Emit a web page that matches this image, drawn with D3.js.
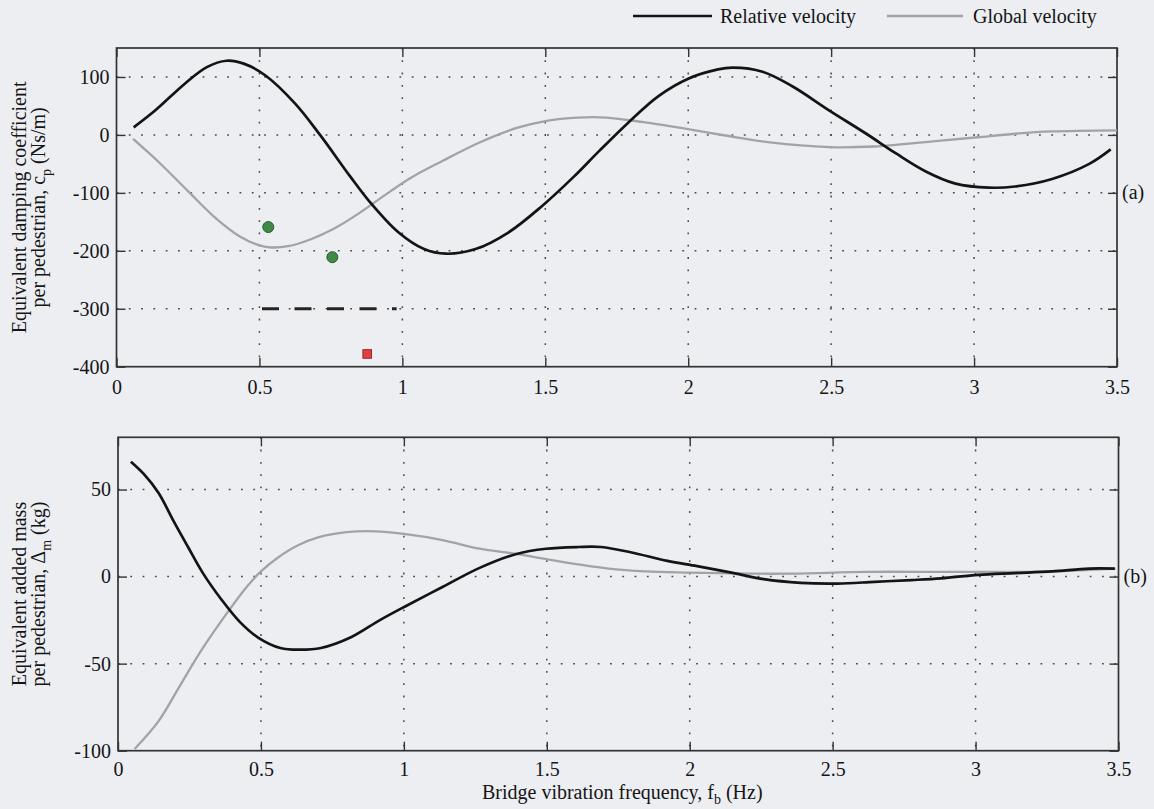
<!DOCTYPE html>
<html>
<head>
<meta charset="utf-8">
<script src="https://cdn.jsdelivr.net/npm/d3@7"></script>
<style>
  html, body { margin: 0; padding: 0; background: #eceef2; }
  svg { display: block; }
  text { font-family: "Liberation Serif", "Times New Roman", "DejaVu Serif", serif; fill: #151515; }
</style>
</head>
<body>
<svg id="chart" width="1154" height="809"></svg>
<script>
// Equivalent damping / added mass per pedestrian vs bridge frequency

// -----------------------------------------------------------------------------
// DATA
// -----------------------------------------------------------------------------

const xTicks = [0, 0.5, 1, 1.5, 2, 2.5, 3, 3.5];
const yTicksA = [-400, -300, -200, -100, 0, 100];
const yTicksB = [-100, -50, 0, 50];

// (a) damping coefficient c_p (Ns/m)
const cpRelative = [
  [0.06, 13], [0.135, 42], [0.238, 88], [0.316, 117], [0.385, 128], [0.445, 123],
  [0.52, 103], [0.625, 54], [0.712, 0], [0.818, -72], [0.885, -115], [0.986, -168],
  [1.076, -197], [1.153, -205], [1.256, -197], [1.372, -168], [1.488, -123],
  [1.6, -72], [1.688, -28], [1.792, 22], [1.896, 67], [2.0, 97], [2.104, 113],
  [2.156, 116], [2.26, 109], [2.364, 84], [2.494, 42], [2.623, 2], [2.727, -32],
  [2.831, -63], [2.935, -84], [3.052, -91], [3.143, -89], [3.273, -76],
  [3.403, -50], [3.478, -25]
];
const cpGlobal = [
  [0.058, -7], [0.15, -48], [0.25, -97], [0.35, -145], [0.43, -175], [0.49, -189],
  [0.535, -194], [0.6, -192], [0.68, -180], [0.76, -162], [0.84, -138], [0.93, -107],
  [1.03, -74], [1.14, -45], [1.27, -13], [1.4, 12], [1.5, 24], [1.615, 30],
  [1.714, 30], [1.844, 22], [2.0, 10], [2.13, -1], [2.286, -13], [2.494, -21],
  [2.649, -20], [2.753, -16], [2.883, -10], [3.013, -4], [3.143, 2], [3.273, 6], [3.5, 8]
];
const cpCircles = [[0.531, -159], [0.755, -211]];
const cpSquares = [[0.877, -378]];
const cpDashed = [[0.509, -300], [0.98, -300]];

// (b) added mass Δ_m (kg)
const dmRelative = [
  [0.045, 66], [0.09, 59], [0.142, 48], [0.194, 32], [0.245, 17], [0.297, 2],
  [0.361, -13], [0.426, -26], [0.49, -35], [0.568, -41], [0.632, -42], [0.71, -41],
  [0.813, -35], [0.916, -25], [1.006, -17], [1.135, -6], [1.265, 5], [1.394, 13],
  [1.497, 16], [1.61, 17], [1.69, 17], [1.793, 14], [1.922, 9], [2.026, 6],
  [2.155, 2], [2.259, -1.5], [2.388, -3.6], [2.517, -4], [2.647, -3], [2.776, -2],
  [2.88, -1], [3.009, 1], [3.138, 2], [3.268, 3], [3.397, 4.6], [3.487, 4.6]
];
const dmGlobal = [
  [0.058, -99], [0.142, -83], [0.219, -62], [0.297, -41], [0.39, -19], [0.45, -6],
  [0.5, 3], [0.56, 11], [0.63, 18], [0.7, 22.5], [0.8, 25.5], [0.9, 26], [1.0, 24.5],
  [1.135, 21], [1.265, 16], [1.394, 13], [1.497, 10], [1.61, 7], [1.715, 4.6],
  [1.845, 3], [2.0, 2.3], [2.207, 1.7], [2.362, 1.7], [2.621, 2.7], [2.88, 2.7],
  [3.138, 2.7], [3.268, 3], [3.49, 4.6]
];

// -----------------------------------------------------------------------------
// SETUP
// -----------------------------------------------------------------------------

const svg = d3.select('#chart');
svg.append('rect').attr('width', 1154).attr('height', 809).attr('fill', '#eceef2');

const fmt = d => String(d);

const panels = [
  {
    x: d3.scaleLinear().domain([0, 3.5]).range([116.5, 1117]),
    y: d3.scaleLinear().domain([-400, 150]).range([366.7, 48]),
    yTicks: yTicksA, tag: '(a)', tagValue: -100, pad: 13.5,
    title1: 'Equivalent damping coefficient', title2: 'per pedestrian, c', sub: 'p', unit: ' (Ns/m)',
    relative: cpRelative, global: cpGlobal
  },
  {
    x: d3.scaleLinear().domain([0, 3.5]).range([118, 1118.5]),
    y: d3.scaleLinear().domain([-100, 80]).range([750.7, 437.3]),
    yTicks: yTicksB, tag: '(b)', tagValue: 0, pad: 11.5,
    title1: 'Equivalent added mass', title2: 'per pedestrian, \u0394', sub: 'm', unit: ' (kg)',
    relative: dmRelative, global: dmGlobal
  }
];

function drawPanel(p) {
  const g = svg.append('g');
  const [x0, x1] = p.x.range();
  const [y0, y1] = p.y.range();

  // dotted grid
  g.selectAll('.gx').data(xTicks.slice(1, -1)).enter().append('line')
    .attr('x1', d => p.x(d)).attr('x2', d => p.x(d))
    .attr('y1', y1).attr('y2', y0)
    .attr('stroke', '#4a4a4a').attr('stroke-width', 1.5).attr('stroke-dasharray', '1.8,10.5');
  g.selectAll('.gy').data(p.yTicks.slice(1)).enter().append('line')
    .attr('x1', x0).attr('x2', x1)
    .attr('y1', d => p.y(d)).attr('y2', d => p.y(d))
    .attr('stroke', '#4a4a4a').attr('stroke-width', 1.5).attr('stroke-dasharray', '1.8,10.5');

  // axes with inward ticks
  const axB = g.append('g').attr('transform', `translate(0,${y0})`)
    .call(d3.axisBottom(p.x).tickValues(xTicks).tickSize(-9).tickPadding(p.pad).tickFormat(fmt));
  const axT = g.append('g').attr('transform', `translate(0,${y1})`)
    .call(d3.axisTop(p.x).tickValues(xTicks).tickSize(-9).tickFormat(''));
  const axL = g.append('g').attr('transform', `translate(${x0},0)`)
    .call(d3.axisLeft(p.y).tickValues(p.yTicks).tickSize(-9).tickPadding(7).tickFormat(fmt));
  const axR = g.append('g').attr('transform', `translate(${x1},0)`)
    .call(d3.axisRight(p.y).tickValues(p.yTicks).tickSize(-9).tickFormat(''));
  [axB, axT, axL, axR].forEach(a => {
    a.select('.domain').remove();
    a.selectAll('.tick line').attr('stroke', '#333').attr('stroke-width', 1.4);
    a.selectAll('.tick text').attr('font-size', 20).attr('fill', '#151515');
  });

  // frame
  g.append('rect').attr('x', x0).attr('y', y1)
    .attr('width', x1 - x0).attr('height', y0 - y1)
    .attr('fill', 'none').attr('stroke', '#333').attr('stroke-width', 1.7);

  const line = d3.line().x(d => p.x(d[0])).y(d => p.y(d[1])).curve(d3.curveCatmullRom.alpha(0.5));
  g.append('path').datum(p.global).attr('d', line)
    .attr('fill', 'none').attr('stroke', '#a2a3a6').attr('stroke-width', 2.3);
  g.append('path').datum(p.relative).attr('d', line)
    .attr('fill', 'none').attr('stroke', '#141414').attr('stroke-width', 2.7);

  // panel tag
  g.append('text').attr('x', x1 + 5).attr('y', p.y(p.tagValue)).attr('dy', '0.32em')
    .attr('font-size', 20).text(p.tag);

  // y title (two rotated lines)
  const cy = (y0 + y1) / 2;
  g.append('text').attr('transform', `translate(26,${cy}) rotate(-90)`)
    .attr('text-anchor', 'middle').attr('font-size', 20).text(p.title1);
  const t2 = g.append('text').attr('transform', `translate(45,${cy}) rotate(-90)`)
    .attr('text-anchor', 'middle').attr('font-size', 20);
  t2.append('tspan').text(p.title2);
  t2.append('tspan').attr('font-size', 14).attr('dy', 6).text(p.sub);
  t2.append('tspan').attr('dy', -6).text(p.unit);

  return g;
}

const gA = drawPanel(panels[0]);
drawPanel(panels[1]);

// extra markers on (a)
const pa = panels[0];
gA.append('path').datum(cpDashed)
  .attr('d', d3.line().x(d => pa.x(d[0])).y(d => pa.y(d[1])))
  .attr('stroke', '#2a2222').attr('stroke-width', 3).attr('stroke-dasharray', '17,15.5');
gA.selectAll('.circ').data(cpCircles).enter().append('circle')
  .attr('cx', d => pa.x(d[0])).attr('cy', d => pa.y(d[1])).attr('r', 5.5)
  .attr('fill', '#3f8a45').attr('stroke', '#2b5e30').attr('stroke-width', 1);
gA.selectAll('.sq').data(cpSquares).enter().append('rect')
  .attr('x', d => pa.x(d[0]) - 4.3).attr('y', d => pa.y(d[1]) - 4.3)
  .attr('width', 8.6).attr('height', 8.6)
  .attr('fill', '#e0403f').attr('stroke', '#9e2a2a').attr('stroke-width', 1);

// x title
const pb = panels[1];
const xt = svg.append('text').attr('x', (pb.x.range()[0] + pb.x.range()[1]) / 2 + 4).attr('y', 799)
  .attr('text-anchor', 'middle').attr('font-size', 20);
xt.append('tspan').text('Bridge vibration frequency, f');
xt.append('tspan').attr('font-size', 14).attr('dy', 5).text('b');
xt.append('tspan').attr('dy', -5).text(' (Hz)');

// legend
const legend = svg.append('g');
const legendItems = [
  { label: 'Relative velocity', color: '#141414', width: 2.7, x1: 633, x2: 712, tx: 720 },
  { label: 'Global velocity', color: '#a2a3a6', width: 2.3, x1: 887, x2: 963, tx: 973 }
];
legendItems.forEach(it => {
  legend.append('line').attr('x1', it.x1).attr('x2', it.x2).attr('y1', 16).attr('y2', 16)
    .attr('stroke', it.color).attr('stroke-width', it.width);
  legend.append('text').attr('x', it.tx).attr('y', 23).attr('font-size', 20).text(it.label);
});
</script>
</body>
</html>
